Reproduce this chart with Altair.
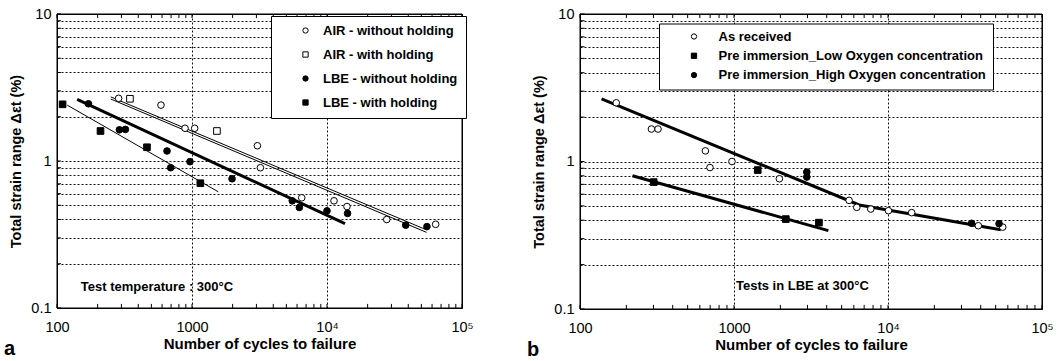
import altair as alt
import pandas as pd

FONT = "Liberation Sans"

# ---------------- panel a : low-cycle fatigue in air and in LBE at 300 °C ----------------
a_series = ["AIR - without holding", "AIR - with holding",
            "LBE - without holding", "LBE - with holding"]

a_air_nohold_n = [286, 589, 888, 1047, 3050, 3210, 6500, 11270, 14060, 27700, 63800]
a_air_nohold_e = [2.67, 2.40, 1.67, 1.67, 1.27, 0.90, 0.562, 0.536, 0.49, 0.40, 0.371]
a_air_hold_n = [347, 1530]
a_air_hold_e = [2.65, 1.60]
a_lbe_nohold_n = [171, 290, 321, 653, 695, 966, 1980, 5530, 6240, 10000, 14200, 38300, 55000]
a_lbe_nohold_e = [2.45, 1.63, 1.64, 1.17, 0.90, 0.99, 0.757, 0.536, 0.483, 0.458, 0.44, 0.366, 0.358]
a_lbe_hold_n = [110, 210, 464, 1153]
a_lbe_hold_e = [2.43, 1.60, 1.24, 0.706]

# fitted Manson-Coffin lines
a_fit_air1_n = [250, 54600]
a_fit_air1_e = [2.73, 0.340]
a_fit_air2_n = [250, 54600]
a_fit_air2_e = [2.64, 0.327]
a_fit_lbe_n = [141, 13600]
a_fit_lbe_e = [2.63, 0.375]
a_fit_lbehold_n = [119, 1567]
a_fit_lbehold_e = [2.40, 0.617]

# ---------------- panel b : effect of pre-immersion in LBE ----------------
b_series = ["As received",
            "Pre immersion_Low Oxygen concentration",
            "Pre immersion_High Oxygen concentration"]

b_asrec_n = [172, 291, 321, 652, 698, 970, 1970, 5590, 6270, 7730, 10070, 14250, 38600, 55600]
b_asrec_e = [2.50, 1.66, 1.66, 1.18, 0.91, 1.0, 0.764, 0.545, 0.489, 0.476, 0.464, 0.45, 0.367, 0.359]
b_lowo_n = [301, 1426, 2170, 3560]
b_lowo_e = [0.725, 0.875, 0.407, 0.385]
b_higho_n = [2970, 2970, 34900, 52600]
b_higho_e = [0.848, 0.784, 0.381, 0.379]

b_fit_upper_n = [138, 6500, 54000]
b_fit_upper_e = [2.66, 0.507, 0.345]
b_fit_lower_n = [219, 4100]
b_fit_lower_e = [0.80, 0.34]

# axis tick positions and the ranges of both axes
x_ticks = [m * 10 ** k for k in (2, 3, 4) for m in range(1, 10)] + [100000]
y_ticks = [0.1, 0.2, 0.3, 0.4, 0.5, 0.6, 0.7, 0.8, 0.9,
           1, 2, 3, 4, 5, 6, 7, 8, 9, 10]
X_MIN, X_MAX = 100, 100000
Y_MIN, Y_MAX = 0.1, 10

# length of the inward tick marks, as a factor on the log axes
TICK_X = 1.07
TICK_Y = 1.066


def frame(pairs):
    rows = []
    for name, ns, es in pairs:
        rows += [{"series": name, "n": n, "e": e} for n, e in zip(ns, es)]
    return pd.DataFrame(rows)


def box_and_ticks():
    """Plot frame plus inward ticks, as short two-point segments."""
    rows = []

    def seg(key, p, q):
        rows.append({"seg": key, "i": 0, "n": p[0], "e": p[1]})
        rows.append({"seg": key, "i": 1, "n": q[0], "e": q[1]})

    seg("bottom", (X_MIN, Y_MIN), (X_MAX, Y_MIN))
    seg("top", (X_MIN, Y_MAX), (X_MAX, Y_MAX))
    seg("left", (X_MIN, Y_MIN), (X_MIN, Y_MAX))
    seg("right", (X_MAX, Y_MIN), (X_MAX, Y_MAX))
    for v in x_ticks:
        seg(f"xb{v}", (v, Y_MIN), (v, Y_MIN * TICK_Y))
        seg(f"xt{v}", (v, Y_MAX), (v, Y_MAX / TICK_Y))
    for v in y_ticks:
        seg(f"yl{v}", (X_MIN, v), (X_MIN * TICK_X, v))
    return pd.DataFrame(rows)


X_AXIS = alt.Axis(
    values=x_ticks,
    labelExpr="datum.value == 100 ? '100' : datum.value == 1000 ? '1000' : "
              "datum.value == 10000 ? '10\u2074' : datum.value == 100000 ? '10\u2075' : ''",
    grid=True, gridDash=[2, 2], gridColor="#111111", gridWidth=1,
    gridOpacity={"condition": {"test": "datum.value == 1000 || datum.value == 10000", "value": 1},
                 "value": 0},
    domain=False, ticks=False,
    labelFlush=False, labelOverlap=False, labelPadding=12,
    labelFont=FONT, labelFontSize=14.5, labelColor="black",
    title="Number of cycles to failure", titleFont=FONT, titleFontSize=15,
    titleFontWeight="bold", titleColor="black", titlePadding=3,
)

Y_AXIS = alt.Axis(
    values=y_ticks,
    labelExpr="datum.value == 0.1 ? '0.1' : datum.value == 1 ? '1' : datum.value == 10 ? '10' : ''",
    grid=True, gridDash=[2, 2], gridColor="#111111", gridWidth=1,
    domain=False, ticks=False,
    labelFlush=False, labelOverlap=False, labelPadding=6,
    labelFont=FONT, labelFontSize=14.5, labelColor="black",
    title="Total strain range \u0394\u03b5t (%)", titleFont=FONT, titleFontSize=14.5,
    titleFontWeight="bold", titleColor="black", titlePadding=7,
)


def panel(pts, thick, thin, series, shapes, fills, note, width, height, legend, letter):
    xs = alt.Scale(type="log", domain=[X_MIN, X_MAX], nice=False)
    ys = alt.Scale(type="log", domain=[Y_MIN, Y_MAX], nice=False)
    X = alt.X("n:Q", scale=xs, axis=X_AXIS)
    Y = alt.Y("e:Q", scale=ys, axis=Y_AXIS)

    layers = [
        alt.Chart(box_and_ticks()).mark_line(color="black", strokeWidth=1).encode(
            x=X, y=Y, detail="seg:N", order="i:Q")
    ]

    if thin is not None:
        layers.append(alt.Chart(thin).mark_line(color="black", strokeWidth=1).encode(
            x=X, y=Y, detail="series:N"))
    layers.append(alt.Chart(thick).mark_line(color="black", strokeWidth=3).encode(
        x=X, y=Y, detail="series:N"))

    layers.append(alt.Chart(pts).mark_point(
        filled=True, strokeWidth=1, size=44, opacity=1
    ).encode(
        x=X, y=Y,
        shape=alt.Shape("series:N", scale=alt.Scale(domain=series, range=shapes), legend=legend),
        fill=alt.Fill("series:N", scale=alt.Scale(domain=series, range=fills), legend=legend),
        stroke=alt.Stroke("series:N", scale=alt.Scale(domain=series, range=["black"] * len(series)),
                          legend=legend),
    ))

    note_df = pd.DataFrame({"t": [note[0]], "n": [note[1]], "e": [note[2]]})
    layers.append(alt.Chart(note_df).mark_text(
        align="left", baseline="middle", font=FONT, fontSize=13, fontWeight="bold", color="black"
    ).encode(x=X, y=Y, text="t:N"))

    # panel letter below the axis, at the lower-left corner
    letter_df = pd.DataFrame({"t": [letter]})
    layers.append(alt.Chart(letter_df).mark_text(
        align="left", baseline="bottom", font=FONT, fontSize=20, fontWeight="bold", color="black"
    ).encode(x=alt.value(-53), y=alt.value(height + 51), text="t:N"))

    return alt.layer(*layers).properties(width=width, height=height)


def legend(x, y, pad, sym_off, lab_off, row_pad):
    return alt.Legend(
        orient="none", legendX=x, legendY=y, title=None,
        strokeColor="black", fillColor="white", padding=pad,
        symbolOffset=sym_off, labelOffset=lab_off, rowPadding=row_pad,
        symbolSize=28, symbolStrokeWidth=1, symbolOpacity=1,
        labelFont=FONT, labelFontSize=13, labelFontWeight="bold", labelColor="black",
        labelLimit=400,
    )


a_points = frame([
    (a_series[0], a_air_nohold_n, a_air_nohold_e),
    (a_series[1], a_air_hold_n, a_air_hold_e),
    (a_series[2], a_lbe_nohold_n, a_lbe_nohold_e),
    (a_series[3], a_lbe_hold_n, a_lbe_hold_e),
])
a_thin = frame([
    ("air1", a_fit_air1_n, a_fit_air1_e),
    ("air2", a_fit_air2_n, a_fit_air2_e),
    ("lbehold", a_fit_lbehold_n, a_fit_lbehold_e),
])
a_thick = frame([("lbe", a_fit_lbe_n, a_fit_lbe_e)])

b_points = frame([
    (b_series[0], b_asrec_n, b_asrec_e),
    (b_series[1], b_lowo_n, b_lowo_e),
    (b_series[2], b_higho_n, b_higho_e),
])
b_thick = frame([
    ("upper", b_fit_upper_n, b_fit_upper_e),
    ("lower", b_fit_lower_n, b_fit_lower_e),
])

chart_a = panel(
    a_points, a_thick, a_thin, a_series,
    ["circle", "square", "circle", "square"],
    ["white", "white", "black", "black"],
    ("Test temperature : 300\u00b0C", 150, 0.139),
    405, 294,
    legend(214, 2, 8, 20, 11, 10),
    "a",
)

chart_b = panel(
    b_points, b_thick, None, b_series,
    ["circle", "square", "circle"],
    ["white", "black", "black"],
    ("Tests in LBE at 300\u00b0C", 1030, 0.143),
    462, 295,
    legend(79, 9.5, 6.5, 22, 18, 5.3),
    "b",
)

chart = alt.hconcat(chart_a, chart_b, spacing=118, bounds="flush").resolve_scale(
    shape="independent", fill="independent", stroke="independent"
).configure_view(
    stroke="black", strokeWidth=1
).properties(
    padding={"left": 3, "top": 5, "right": 0, "bottom": 0},
    background="white",
)

chart.save("out.html", embed_options={"renderer": "svg", "actions": False})
